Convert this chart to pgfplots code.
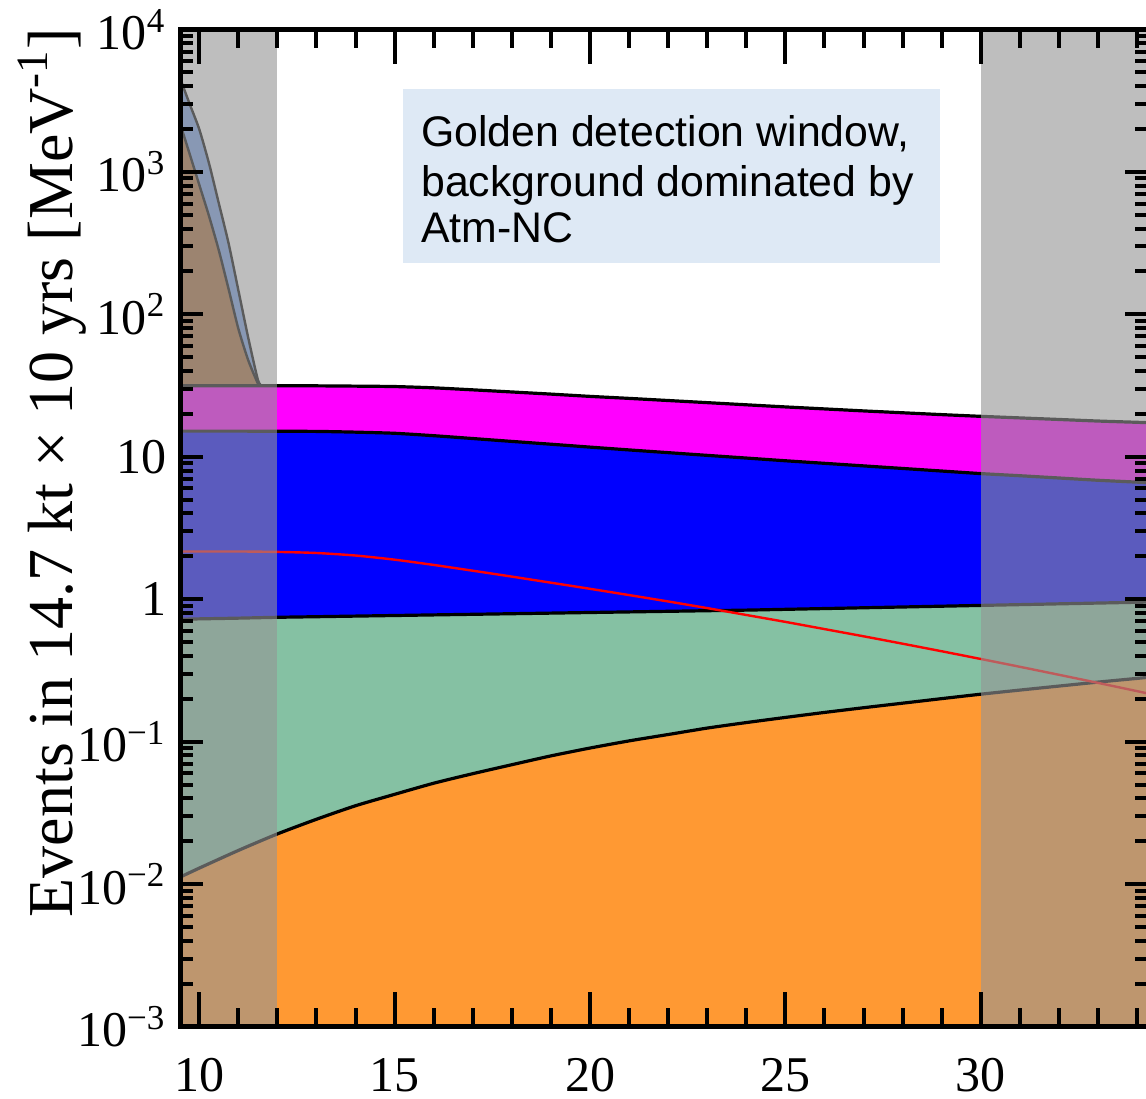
\documentclass[border=0pt]{standalone}
\usepackage{fontspec}
\setmainfont{Liberation Serif}
\newfontfamily\arial{Liberation Sans}
\usepackage{pgfplots}
\pgfplotsset{compat=1.18}
\usepackage{pgfplotstable}

\definecolor{cOrange}{RGB}{255,153,51}
\definecolor{cGreen}{RGB}{133,193,163}
\definecolor{cBlue}{RGB}{0,0,255}
\definecolor{cMag}{RGB}{255,0,255}
\definecolor{cSteep}{RGB}{168,106,55}
\definecolor{cBG}{RGB}{116,158,229}
\definecolor{cOver}{RGB}{149,149,149}
\definecolor{cBox}{RGB}{222,233,245}

\pgfplotstableread{
x     orange   green   blue   mag    red
9.52  0.01122  0.7228  15.14  31.55  2.163
10    0.01294  0.7278  15.14  31.55  2.163
11    0.01722  0.7362  15.14  31.55  2.163
12    0.02249  0.7464  15.10  31.55  2.148
13    0.02851  0.7537  15.07  31.48  2.111
14    0.03548  0.7610  14.89  31.33  2.026
15    0.04266  0.7684  14.62  31.12  1.895
16    0.05105  0.7759  14.06  30.48  1.740
17    0.05957  0.7834  13.43  29.51  1.585
18    0.06887  0.7910  12.82  28.51  1.441
19    0.07943  0.7987  12.25  27.54  1.306
20    0.09016  0.8065  11.69  26.55  1.183
21    0.1012   0.8143  11.17  25.70  1.069
22    0.1122   0.8222  10.69  24.83  0.964
23    0.1245   0.8302  10.23  23.99  0.866
24    0.1361   0.8383  9.795  23.17  0.775
25    0.1479   0.8489  9.376  22.39  0.693
26    0.1603   0.8597  8.995  21.68  0.617
27    0.1730   0.8707  8.630  20.99  0.549
28    0.1862   0.8818  8.279  20.37  0.487
29    0.2004   0.8931  7.943  19.77  0.431
30    0.2153   0.9045  7.621  19.23  0.3805
31    0.2301   0.9160  7.362  18.75  0.3353
32    0.2455   0.9277  7.096  18.28  0.2947
33    0.2618   0.9395  6.839  17.82  0.2585
34    0.2780   0.9515  6.637  17.46  0.2262
34.28 0.2825   0.9549  6.580  17.35  0.2177
}\maintab

\pgfplotstableread{
x     y
9.52  2138
9.75  1349
10.0  813
10.25 490
10.5  282
10.75 151
11.0  79.4
11.25 47.9
11.5  32.7
11.56 31.55
}\browntab

\pgfplotstableread{
x     y
9.52  4467
9.75  3020
10.0  1995
10.25 1148
10.5  603
10.75 316
11.0  148
11.25 69.2
11.5  34.7
11.6  31.55
}\bgtab

\begin{document}
\begin{tikzpicture}
\begin{axis}[
  scale only axis,
  width=241.875pt, height=249.25pt,
  xmin=9.52, xmax=34.28,
  ymode=log, ymin=1e-3, ymax=1e4,
  log origin y=infty,
  axis on top,
  tick align=inside,
  axis line style={line width=1.1pt},
  every tick/.style={black, line width=1pt},
  xtick={10,15,20,25,30},
  xticklabels={10,15,20,25,30},
  minor xtick={11,12,13,14,16,17,18,19,21,22,23,24,26,27,28,29,31,32,33,34},
  ytick={1e-3,1e-2,1e-1,1,10,100,1000,10000},
  yticklabels={10\textsuperscript{−3},10\textsuperscript{−2},10\textsuperscript{−1},1,10,10\textsuperscript{2},10\textsuperscript{3},10\textsuperscript{4}},
  minor ytick={0.002,0.003,0.004,0.005,0.006,0.007,0.008,0.009,
               0.02,0.03,0.04,0.05,0.06,0.07,0.08,0.09,
               0.2,0.3,0.4,0.5,0.6,0.7,0.8,0.9,
               2,3,4,5,6,7,8,9,
               20,30,40,50,60,70,80,90,
               200,300,400,500,600,700,800,900,
               2000,3000,4000,5000,6000,7000,8000,9000},
  xtick style={/pgfplots/major tick length=8.7pt,/pgfplots/minor tick length=4.6pt},
  ytick style={/pgfplots/major tick length=5.7pt,/pgfplots/minor tick length=3.2pt},
  tick label style={font=\fontsize{12.5}{15}\selectfont},
  xticklabel style={inner sep=1pt, yshift=-6.7pt},
  ylabel={Events in 14.7 kt × 10 yrs [MeV\textsuperscript{-1}]},
  ylabel style={at={([xshift=-27pt]rel axis cs:0,0.5557)}, anchor=base, inner sep=0pt,
                font=\fontsize{16}{19}\selectfont},
]
\coordinate (bl) at (rel axis cs:0,0);
\coordinate (tr) at (rel axis cs:1,1);

% fills, top layers first
\addplot[draw=none, fill=cBG, smooth, tension=0.4] table[x=x,y=y]{\bgtab} \closedcycle;
\addplot[draw=none, fill=cSteep, smooth, tension=0.4] table[x=x,y=y]{\browntab} \closedcycle;
\addplot[draw=none, fill=cMag, smooth, tension=0.4] table[x=x,y=mag]{\maintab} \closedcycle;
\addplot[draw=none, fill=cBlue, smooth, tension=0.4] table[x=x,y=blue]{\maintab} \closedcycle;
\addplot[draw=none, fill=cGreen, smooth, tension=0.4] table[x=x,y=green]{\maintab} \closedcycle;
\addplot[draw=none, fill=cOrange, smooth, tension=0.4] table[x=x,y=orange]{\maintab} \closedcycle;

% boundary lines
\addplot[black, line width=0.6pt, smooth, tension=0.4] table[x=x,y=y]{\bgtab};
\addplot[black, line width=0.6pt, smooth, tension=0.4] table[x=x,y=y]{\browntab};
\addplot[black, line width=0.8pt, smooth, tension=0.4] table[x=x,y=mag]{\maintab};
\addplot[black, line width=0.8pt, smooth, tension=0.4] table[x=x,y=blue]{\maintab};
\addplot[black, line width=0.8pt, smooth, tension=0.4] table[x=x,y=green]{\maintab};
\addplot[black, line width=0.8pt, smooth, tension=0.4] table[x=x,y=orange]{\maintab};
\addplot[red, line width=0.6pt, smooth, tension=0.4] table[x=x,y=red]{\maintab};

% gray shaded bands
\fill[cOver, fill opacity=0.61] (axis cs:9.52,0.001) rectangle (axis cs:12,10000);
\fill[cOver, fill opacity=0.61] (axis cs:30,0.001) rectangle (axis cs:34.28,10000);

% text box
\fill[cBox] (axis cs:15.21,230) rectangle (axis cs:28.96,3828);
\node[anchor=base west, inner sep=0pt, font=\arial\fontsize{10.7}{12}\selectfont] at (axis cs:15.66,1507) {Golden detection window,};
\node[anchor=base west, inner sep=0pt, font=\arial\fontsize{10.7}{12}\selectfont] at (axis cs:15.66,672) {background dominated by};
\node[anchor=base west, inner sep=0pt, font=\arial\fontsize{10.7}{12}\selectfont] at (axis cs:15.66,318) {Atm-NC};
\end{axis}
\pgfresetboundingbox
\path ([shift={(-45.125pt,-18.125pt)}]bl) rectangle ([shift={(-0.5pt,7.375pt)}]tr);
\end{tikzpicture}
\end{document}
